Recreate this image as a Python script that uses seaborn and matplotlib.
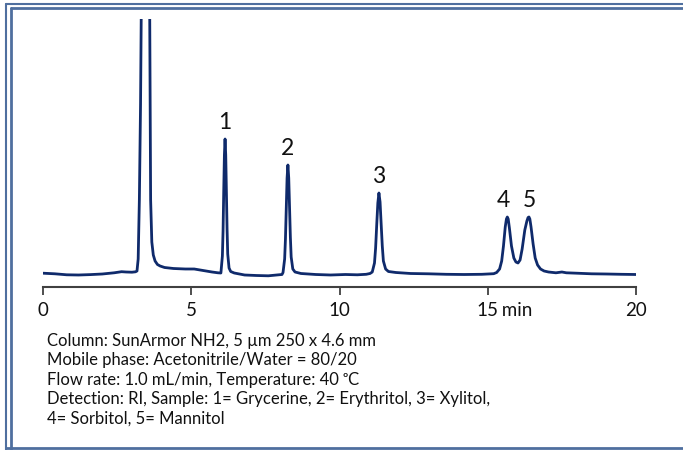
import numpy as np
import matplotlib
matplotlib.use("Agg")
import matplotlib.pyplot as plt
from matplotlib.lines import Line2D
import seaborn as sns

# === DATA (signal in arbitrary units) ===
pre_t = [0.0, 0.4, 0.8, 1.2, 1.6, 2.0, 2.4, 2.65, 2.8, 3.0, 3.12]
pre_s = [0.8, 0.2, -0.8, -1.0, -0.6, 0.0, 1.2, 2.3, 2.0, 1.8, 2.2]

solvent_t = [3.17, 3.21, 3.25, 3.29, 3.312, 3.33, 3.46, 3.58, 3.60, 3.63, 3.67, 3.72, 3.78, 3.86, 3.95]
solvent_s = [3, 15, 74, 170, 255, 400, 900, 400, 255, 74, 32, 19, 13, 9.5, 8]

drift_t = [4.1, 4.4, 4.8, 5.1, 5.4, 5.7, 5.9]
drift_s = [6.5, 5.5, 5, 5, 3.5, 2, 1.2]

p1_t = [6.00, 6.05, 6.073, 6.095, 6.118, 6.14, 6.163, 6.185, 6.208, 6.23, 6.275, 6.33]
p1_s = [1.0, 18, 43, 82, 119, 135, 119, 83, 45, 20, 6, 2.5]

gap12_t = [6.45, 6.8, 7.2, 7.6, 7.95]
gap12_s = [1.0, -1.0, -1.5, -1.8, -0.8]

p2_t = [8.06, 8.095, 8.15, 8.177, 8.205, 8.232, 8.26, 8.288, 8.315, 8.343, 8.37, 8.425, 8.5]
p2_s = [-0.5, 1.5, 15, 35, 66, 96, 109, 96, 67, 37, 17, 5, 2]

gap23_t = [8.7, 9.2, 9.7, 10.2, 10.6, 10.9]
gap23_s = [0.5, -0.5, -1.0, -0.5, -0.8, -0.3]

p3_t = [11.03, 11.105, 11.18, 11.218, 11.255, 11.293, 11.33, 11.368, 11.405, 11.443, 11.48, 11.555, 11.65]
p3_s = [0.5, 2, 11, 26, 49, 71, 81, 72, 50, 28, 13, 5, 2.5]

gap34_t = [11.9, 12.4, 13.0, 13.6, 14.2, 14.8, 15.2]
gap34_s = [1.5, 0.5, 0.2, -0.3, -0.5, -0.3, 0.3]

p45_t = [15.30, 15.40, 15.47, 15.53, 15.59, 15.63, 15.66, 15.69, 15.73, 15.80, 15.88, 15.95, 16.02,
         16.09, 16.16, 16.25, 16.32, 16.36, 16.39, 16.42, 16.46, 16.53, 16.60, 16.68, 16.78, 16.9]
p45_s = [1.5, 5, 13, 28, 47, 55, 57, 55, 46, 28, 16, 12, 11,
         14, 25, 44, 53, 56.5, 57, 55, 47, 30, 16, 9, 5, 3]

tail_t = [17.05, 17.3, 17.5, 17.65, 18.0, 18.5, 19.0, 19.5, 20.0]
tail_s = [2, 1.2, 2.0, 1.2, 0.8, 0.2, 0.0, -0.3, -0.5]

peak_ids = ["1", "2", "3", "4", "5"]
peak_times = [6.14, 8.26, 11.33, 15.66, 16.39]

x_ticks = [0, 5, 10, 15, 20]

notes = [
    "Column: SunArmor NH2, 5 \u00b5m 250 x 4.6 mm",
    "Mobile phase: Acetonitrile/Water = 80/20",
    "Flow rate: 1.0 mL/min, Temperature: 40 \u1d52C",
    "Detection: RI, Sample: 1= Grycerine, 2= Erythritol, 3= Xylitol,",
    "4= Sorbitol, 5= Mannitol",
]

# === STYLE ===
TRACE = "#0f2a6b"
AXIS = "#404040"
FRAME = "#4f6f9f"
INK = "#111111"

sns.set_theme(style="white")
plt.rcParams["font.family"] = ["Lato", "DejaVu Sans"]

time = np.concatenate([pre_t, solvent_t, drift_t, p1_t, gap12_t, p2_t, gap23_t,
                       p3_t, gap34_t, p45_t, tail_t])
signal = np.concatenate([pre_s, solvent_s, drift_s, p1_s, gap12_s, p2_s, gap23_s,
                         p3_s, gap34_s, p45_s, tail_s])

W, H = 683, 450
fig = plt.figure(figsize=(W / 100, H / 100), dpi=100)
ax = fig.add_axes([43 / W, 1 - 287 / H, (636 - 43) / W, (287 - 19) / H])

sns.lineplot(x=time, y=signal, ax=ax, color=TRACE, linewidth=2.0, sort=False)

ax.set_xlim(0, 20)
ax.set_ylim(-13, 255)
ax.set_xticks(x_ticks)
ax.set_xticklabels([str(t) for t in x_ticks])
ax.set_yticks([])
ax.set_xlabel("")
ax.set_ylabel("")
for side in ["top", "right", "left"]:
    ax.spines[side].set_visible(False)
ax.spines["bottom"].set_color(AXIS)
ax.spines["bottom"].set_linewidth(1.5)
ax.tick_params(axis="x", direction="out", length=6, width=1.3, color=AXIS,
               pad=5, labelsize=13.5, labelcolor=INK, bottom=True)
ax.patch.set_alpha(0)

# " min" hanging after the 15 tick label
ax.annotate(" min", xy=(15, 0), xycoords=("data", "axes fraction"),
            xytext=(7, -11), textcoords="offset points",
            ha="left", va="top", fontsize=13.5, color=INK)

# peak numbers
apex = np.interp(peak_times, time, signal)
nudge = [0, 0, 0, -3, 0]
for pid, t, h, dx in zip(peak_ids, peak_times, apex, nudge):
    ax.annotate(pid, xy=(t, h), xytext=(dx, 4), textcoords="offset points",
                ha="center", va="bottom", fontsize=16.5, fontweight="normal",
                color=INK)

# method notes
for i, line in enumerate(notes):
    fig.text(47 / W, 1 - (346 + 19.3 * i) / H, line, ha="left", va="baseline",
             fontsize=12, color=INK)

# double frame round the picture
fig.add_artist(Line2D([6 / W, 1], [1 - 3.5 / H] * 2, transform=fig.transFigure, color=FRAME, lw=1.5))
fig.add_artist(Line2D([10.5 / W, 1], [1 - 7.5 / H] * 2, transform=fig.transFigure, color=FRAME, lw=2))
fig.add_artist(Line2D([6 / W] * 2, [0, 1 - 3.5 / H], transform=fig.transFigure, color=FRAME, lw=1.5))
fig.add_artist(Line2D([10.5 / W] * 2, [0, 1 - 7.5 / H], transform=fig.transFigure, color=FRAME, lw=2))
fig.add_artist(Line2D([6 / W, 1], [1 - 448 / H] * 2, transform=fig.transFigure, color=FRAME, lw=2))

fig.savefig("out.png", dpi=100, facecolor="white")
